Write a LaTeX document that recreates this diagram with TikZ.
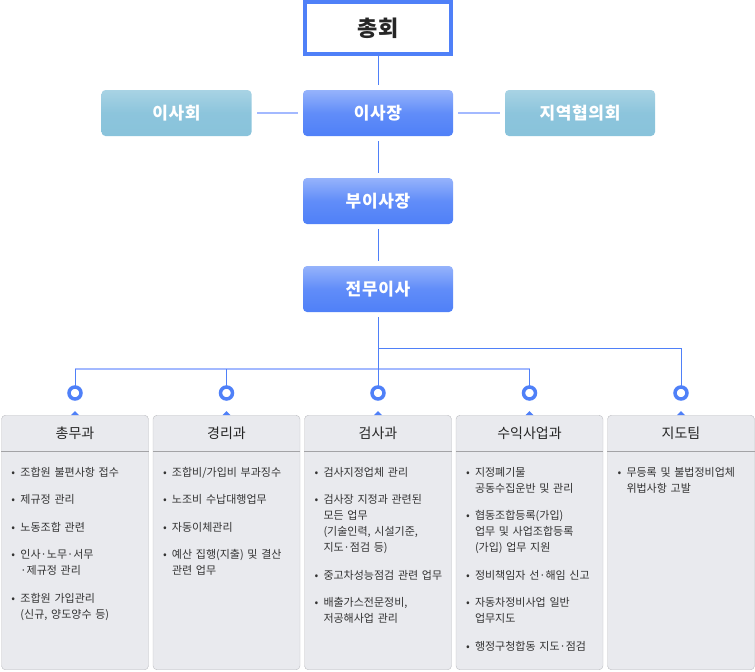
\documentclass[tikz,border=0pt]{standalone}
\usepackage{fontspec}
\setmainfont{Noto Sans CJK KR}
\usepackage{tikz}
\usetikzlibrary{positioning,calc}
\definecolor{royal}{HTML}{4F80F8}
\definecolor{skyline}{HTML}{A3B9FF}
\definecolor{mist}{HTML}{A8D3E4}
\definecolor{lagoon}{HTML}{89C3DB}
\definecolor{boxgray}{HTML}{E9EAEE}
\definecolor{edgegray}{HTML}{BDBEC2}
\definecolor{rulegray}{HTML}{A3A3A6}
\definecolor{inkgray}{HTML}{333333}
\newcommand{\bul}[1]{\par\hangindent=9pt\hangafter=1\noindent\makebox[9pt][l]{\textbullet}#1\par\vspace{11.5pt}}

\tikzset{
  chief/.style={draw=royal,line width=4pt,fill=white,minimum width=146pt,minimum height=52pt,
    font=\fontsize{22}{22}\selectfont\bfseries,text=black!85},
  exec/.style={rounded corners=4pt,top color=royal!60!white,bottom color=royal,middle color=royal!90!white,
    minimum width=150pt,minimum height=46pt,text=white,font=\fontsize{17}{17}\selectfont\bfseries\addfontfeatures{LetterSpace=4}},
  board/.style={exec,top color=mist,bottom color=lagoon,middle color=lagoon!90!mist},
  link/.style={royal,line width=1pt},
  bus/.style={skyline,line width=2pt},
  ring/.style={circle,draw=royal,line width=3.5pt,fill=white,minimum size=12pt,inner sep=0pt},
  unit/.style={draw=edgegray,fill=boxgray,rounded corners=4pt,minimum width=147pt,minimum height=254.5pt},
  unithead/.style={font=\fontsize{14}{14}\selectfont,text=black!85},
  duty/.style={anchor=north west,inner sep=0pt,text width=140pt,align=left,
    font=\fontsize{11}{16}\selectfont,text=inkgray}
}

\begin{document}
\begin{tikzpicture}[x=1pt,y=-1pt]
\useasboundingbox (0,0) rectangle (755,672);

\node[chief] (gm) at (378,28) {총회};
\node[exec] (ceo) at (378,113) {이사장};
\node[board] (brd) at (176.5,113) {이사회};
\node[board] (reg) at (580,113) {지역협의회};
\node[exec] (vice) at (378,201) {부이사장};
\node[exec] (md) at (378,289) {전무이사};

\draw[link,shorten >=5pt] (gm) -- (ceo);
\draw[link,shorten <=5pt,shorten >=5pt] (ceo) -- (vice);
\draw[link,shorten <=5pt,shorten >=5pt] (vice) -- (md);
\draw[bus,shorten <=5pt,shorten >=5pt] (ceo) -- (brd);
\draw[bus,shorten <=5pt,shorten >=5pt] (ceo) -- (reg);

\foreach \i/\x in {1/75,2/226.5,3/378,4/529.5,5/681} {
  \node[unit] (u\i) at (\x,542.5) {};
  \fill[royal] ([xshift=-4pt]u\i.north) -- ([yshift=4pt]u\i.north) -- ([xshift=4pt]u\i.north) -- cycle;
  \draw[rulegray] ([yshift=-36pt]u\i.north west) -- ([yshift=-36pt]u\i.north east);
}

\coordinate (tee) at (378,348);
\coordinate (hub) at (378,369);
\coordinate (r1) at (75,393);
\coordinate (r4) at (529.5,393);
\draw[bus] (r1 |- hub) -- (r4 |- hub);
\draw[link] (tee) -| (681,393);
\foreach \i/\x in {1/75,2/226.5,4/529.5} \draw[link] (\x,369) -- (\x,393);
\draw[link,shorten <=5pt] (md) -- (378,393);
\foreach \i/\x in {1/75,2/226.5,3/378,4/529.5,5/681} \node[ring] (c\i) at (\x,393) {};

\node[unithead] (h1) at ([yshift=-18pt]u1.north) {총무과};
\node[unithead] (h2) at ([yshift=-18pt]u2.north) {경리과};
\node[unithead] (h3) at ([yshift=-18pt]u3.north) {검사과};
\node[unithead] (h4) at ([yshift=-18pt]u4.north) {수익사업과};
\node[unithead] (h5) at ([yshift=-18pt]u5.north) {지도팀};

\node[duty] (d1) at ([xshift=10pt,yshift=-45pt]u1.north west) {%
  \bul{조합원 불편사항 접수}\bul{제규정 관리}\bul{노동조합 관련}%
  \bul{인사·노무·서무\newline ·제규정 관리}\bul{조합원 가입관리\newline (신규, 양도양수 등)}};
\node[duty] (d2) at ([xshift=10pt,yshift=-45pt]u2.north west) {%
  \bul{조합비/가입비 부과징수}\bul{노조비 수납대행업무}\bul{자동이체관리}%
  \bul{예산 집행(지출) 및 결산\newline 관련 업무}};
\node[duty] (d3) at ([xshift=10pt,yshift=-45pt]u3.north west) {%
  \bul{검사지정업체 관리}%
  \bul{검사장 지정과 관련된\newline 모든 업무\newline (기술인력, 시설기준,\newline 지도·점검 등)}%
  \bul{중고차성능점검 관련 업무}\bul{배출가스전문정비,\newline 저공해사업 관리}};
\node[duty] (d4) at ([xshift=10pt,yshift=-45pt]u4.north west) {%
  \bul{지정폐기물\newline 공동수집운반 및 관리}%
  \bul{협동조합등록(가입)\newline 업무 및 사업조합등록\newline (가입) 업무 지원}%
  \bul{정비책임자 선·해임 신고}\bul{자동차정비사업 일반\newline 업무지도}%
  \bul{행정구청합동 지도·점검}};
\node[duty] (d5) at ([xshift=10pt,yshift=-45pt]u5.north west) {%
  \bul{무등록 및 불법정비업체\newline 위법사항 고발}};
\end{tikzpicture}
\end{document}
